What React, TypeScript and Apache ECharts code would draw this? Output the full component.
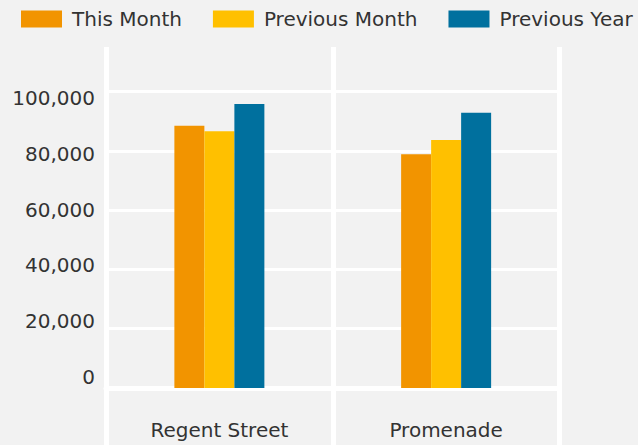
import React, { useEffect, useRef } from "react";
import * as echarts from "echarts";

const categories = ["Regent Street", "Promenade"];
const seriesNames = ["This Month", "Previous Month", "Previous Year"];
const thisMonth = [88400, 78800];
const previousMonth = [86600, 83600];
const previousYear = [95800, 92800];
const colors = ["#F29400", "#FFC000", "#00709E"];

export default function App() {
  const ref = useRef<HTMLDivElement>(null);
  useEffect(() => {
    if (!ref.current) return;
    const chart = echarts.init(ref.current, undefined, { renderer: "svg" });
    const font = "DejaVu Sans";
    const textColor = "#333333";
    const values = [thisMonth, previousMonth, previousYear];
    chart.setOption({
      animation: false,
      backgroundColor: "#F2F2F2",
      textStyle: { fontFamily: font },
      legend: {
        left: 21,
        top: 9,
        padding: 0,
        width: 900,
        itemWidth: 41,
        itemHeight: 17,
        itemGap: 31,
        icon: "rect",
        textStyle: { fontSize: 20, color: textColor, fontFamily: font, padding: [0, 0, 0, 5] },
        data: seriesNames,
      },
      grid: [
        { left: 106, right: 78.5, top: 47, height: 341 },
        { left: 106, right: 78.5, top: 98, height: 279 },
      ],
      xAxis: [
        {
          type: "category",
          gridIndex: 0,
          data: categories,
          axisLine: { show: true, lineStyle: { color: "#FFFFFF", width: 5 } },
          axisTick: { show: true, alignWithLabel: false, length: 57, lineStyle: { color: "#FFFFFF", width: 5 } },
          splitLine: { show: true, lineStyle: { color: "#FFFFFF", width: 5 } },
          axisLabel: { fontSize: 20, color: textColor, margin: 32, fontFamily: font },
        },
        { type: "value", gridIndex: 1, show: false, min: 0, max: 1 },
      ],
      yAxis: [
        {
          type: "value",
          gridIndex: 0,
          min: 0,
          max: 115000,
          interval: 20000,
          axisLine: { show: false },
          axisTick: { show: false },
          axisLabel: { show: false },
          splitLine: { show: true, showMaxLine: false, lineStyle: { color: "#FFFFFF", width: 3 } },
        },
        {
          type: "value",
          gridIndex: 1,
          min: 0,
          max: 100000,
          interval: 20000,
          axisLine: { show: false },
          axisTick: { show: false },
          splitLine: { show: false },
          axisLabel: {
            fontSize: 20,
            color: textColor,
            margin: 11,
            fontFamily: font,
            formatter: (v: number) => v.toLocaleString("en-US"),
          },
        },
      ],
      series: seriesNames.map((name, i) => ({
        name,
        type: "bar",
        xAxisIndex: 0,
        yAxisIndex: 0,
        barWidth: 30,
        barGap: "0%",
        itemStyle: { color: colors[i] },
        data: values[i],
      })),
    });
    return () => chart.dispose();
  }, []);
  return (
    <div
      ref={ref}
      style={{ position: "absolute", left: 0, top: 0, width: 638, height: 445 }}
    />
  );
}
